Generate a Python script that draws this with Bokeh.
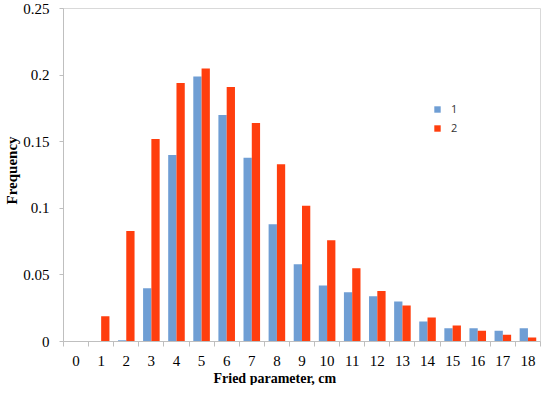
from bokeh.plotting import figure
from bokeh.models import (ColumnDataSource, FixedTicker, NumeralTickFormatter, Range1d,
                          Legend, LegendItem, Title)
from bokeh.transform import dodge
from bokeh.embed import file_html
from bokeh.resources import INLINE

categories = list(range(19))
series1 = [0, 0, 0.001, 0.040, 0.140, 0.199, 0.170, 0.138, 0.088, 0.058,
           0.042, 0.037, 0.034, 0.030, 0.015, 0.010, 0.010, 0.008, 0.010]
series2 = [0, 0.019, 0.083, 0.152, 0.194, 0.205, 0.191, 0.164, 0.133, 0.102,
           0.076, 0.055, 0.038, 0.027, 0.018, 0.012, 0.008, 0.005, 0.003]
y_ticks = [0, 0.05, 0.1, 0.15, 0.2, 0.25]
legend_labels = ["1", "2"]

BLUE = "#6f9ed4"
RED = "#ff3e0e"
SERIF = "Liberation Serif"

src = ColumnDataSource(dict(x=categories, s1=series1, s2=series2))

p = figure(width=542, height=385, output_backend="svg", toolbar_location=None,
           x_range=Range1d(-0.5, 18.5), y_range=Range1d(0, 0.25),
           min_border_left=61, min_border_right=2, min_border_top=8, min_border_bottom=41)
p.background_fill_color = "white"
p.border_fill_color = "white"
p.outline_line_color = "#d9d9d9"
p.grid.visible = False

r1 = p.vbar(x=dodge("x", -0.165, range=p.x_range), top="s1", width=0.33, source=src,
            fill_color=BLUE, line_color=None)
r2 = p.vbar(x=dodge("x", 0.165, range=p.x_range), top="s2", width=0.33, source=src,
            fill_color=RED, line_color=None)

xa = p.xaxis[0]
xa.ticker = FixedTicker(ticks=categories, minor_ticks=[c - 0.5 for c in categories] + [18.5])
xa.major_tick_out = 0
xa.major_tick_in = 0
xa.minor_tick_out = 5
xa.minor_tick_in = 0
xa.minor_tick_line_color = "#bfbfbf"
xa.axis_line_color = "#bfbfbf"
xa.major_label_text_font = SERIF
xa.major_label_text_font_size = "15px"
xa.major_label_text_color = "black"
xa.major_label_standoff = 9

ya = p.yaxis[0]
ya.ticker = FixedTicker(ticks=y_ticks, minor_ticks=[])
ya.formatter = NumeralTickFormatter(format="0.[00]")
ya.major_tick_out = 4
ya.major_tick_in = 0
ya.major_tick_line_color = "#bfbfbf"
ya.axis_line_color = "#bfbfbf"
ya.major_label_text_font = SERIF
ya.major_label_text_font_size = "15px"
ya.major_label_text_color = "black"
ya.major_label_standoff = 10

xt = Title(text="Fried parameter, cm", align="left", offset=150, standoff=0,
           text_font=SERIF, text_font_size="14px", text_font_style="bold", text_color="black")
p.add_layout(xt, "below")
yt = Title(text="Frequency", align="left", offset=137, standoff=2,
           text_font=SERIF, text_font_size="15px", text_font_style="bold", text_color="black")
p.add_layout(yt, "left")

legend = Legend(items=[LegendItem(label=legend_labels[0], renderers=[r1]),
                       LegendItem(label=legend_labels[1], renderers=[r2])],
                location=(370, 206))
legend.glyph_width = 8
legend.glyph_height = 8
legend.label_height = 15
legend.spacing = 4
legend.padding = 0
legend.margin = 0
legend.label_standoff = 10
legend.label_text_font = "Open Sans"
legend.label_text_font_size = "11px"
legend.label_text_color = "#333333"
legend.background_fill_alpha = 0
legend.border_line_color = None
p.add_layout(legend, "center")

open("out.html", "w").write(file_html(p, INLINE))
